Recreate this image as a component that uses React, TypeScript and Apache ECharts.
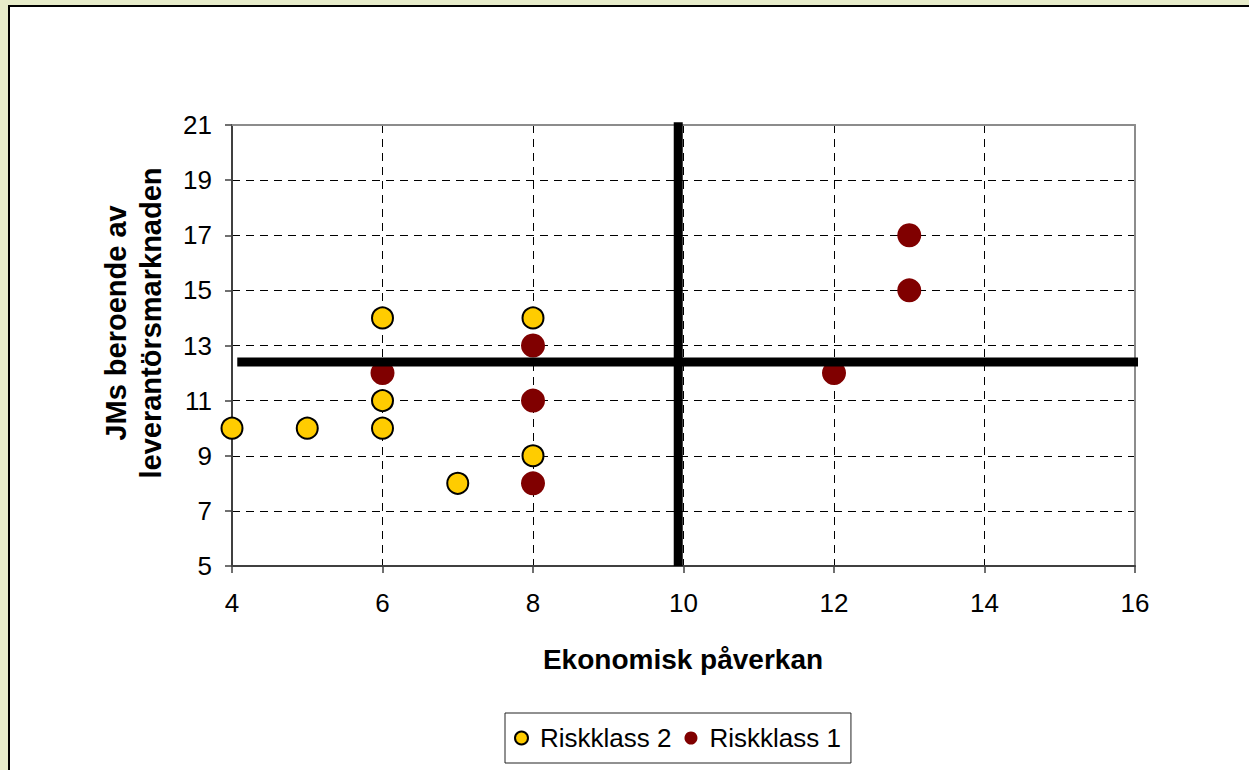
import React, { useEffect, useRef } from "react";
import * as echarts from "echarts";

const xTitle = "Ekonomisk påverkan";
const yTitle = "JMs beroende av\nleverantörsmarknaden";
const seriesNames = ["Riskklass 2", "Riskklass 1"];

const riskklass2: [number, number][] = [
  [4, 10], [5, 10], [6, 14], [6, 11], [6, 10], [7, 8], [8, 14], [8, 9],
];
const riskklass1: [number, number][] = [
  [6, 12], [8, 13], [8, 11], [8, 8], [12, 12], [13, 17], [13, 15],
];
const refLineH: [number, number][] = [[4.07, 12.4], [16.04, 12.4]];
const refLineV: [number, number][] = [[9.93, 21.1], [9.93, 5]];

const xMin = 4, xMax = 16, xStep = 2;
const yMin = 5, yMax = 21, yStep = 2;

const FONT = "'Liberation Sans', Arial, sans-serif";

export default function App() {
  const ref = useRef<HTMLDivElement>(null);
  useEffect(() => {
    if (!ref.current) return;
    const chart = echarts.init(ref.current, null, { renderer: "svg" });
    const gridLine = { show: true, lineStyle: { color: "#000", width: 1, type: [8, 6] as any } };
    chart.setOption({
      animation: false,
      backgroundColor: "#e7ecca",
      textStyle: { fontFamily: FONT },
      grid: { left: 232, right: 114, top: 125, bottom: 204 },
      graphic: [
        {
          type: "rect",
          z: -10,
          shape: { x: 9, y: 6, width: 1300, height: 800 },
          style: { fill: "#fff", stroke: "#000", lineWidth: 2 },
        },
        {
          type: "text",
          x: 683,
          y: 659,
          style: {
            text: xTitle,
            font: `bold 28px ${FONT}`,
            fill: "#000",
            textAlign: "center",
            textVerticalAlign: "middle",
          },
        },
        {
          type: "text",
          x: 133,
          y: 323,
          rotation: Math.PI / 2,
          style: {
            text: yTitle,
            font: `bold 29px ${FONT}`,
            lineHeight: 35,
            fill: "#000",
            textAlign: "center",
            textVerticalAlign: "middle",
          },
        },
      ],
      legend: {
        data: seriesNames,
        left: 505,
        top: 713,
        orient: "horizontal",
        padding: [12, 10, 12, 9],
        itemGap: 13,
        itemWidth: 13,
        itemHeight: 13,
        borderColor: "#222",
        borderWidth: 1,
        backgroundColor: "#fff",
        icon: "circle",
        textStyle: { fontSize: 26, color: "#000", fontFamily: FONT, padding: [0, 0, 0, 7] },
      },
      xAxis: [
        {
          type: "value",
          min: xMin,
          max: xMax,
          interval: xStep,
          position: "bottom",
          axisLine: { onZero: false, lineStyle: { color: "#404040", width: 2 } },
          axisTick: { show: true, length: 7, lineStyle: { color: "#404040", width: 1.5 } },
          axisLabel: { fontSize: 26, color: "#000", margin: 24, fontFamily: FONT },
          splitLine: gridLine,
        },
        {
          type: "value",
          min: xMin,
          max: xMax,
          position: "top",
          axisLine: { onZero: false, lineStyle: { color: "#8c8c8c", width: 2 } },
          axisTick: { show: false },
          axisLabel: { show: false },
          splitLine: { show: false },
        },
      ],
      yAxis: [
        {
          type: "value",
          min: yMin,
          max: yMax,
          interval: yStep,
          position: "left",
          axisLine: { show: true, onZero: false, lineStyle: { color: "#404040", width: 2 } },
          axisTick: { show: true, length: 7, lineStyle: { color: "#404040", width: 1.5 } },
          axisLabel: { fontSize: 26, color: "#000", margin: 20, fontFamily: FONT },
          splitLine: gridLine,
        },
        {
          type: "value",
          min: yMin,
          max: yMax,
          position: "right",
          axisLine: { show: true, onZero: false, lineStyle: { color: "#8c8c8c", width: 2 } },
          axisTick: { show: false },
          axisLabel: { show: false },
          splitLine: { show: false },
        },
      ],
      series: [
        {
          name: seriesNames[0],
          type: "scatter",
          data: riskklass2,
          symbol: "circle",
          symbolSize: 21,
          itemStyle: { color: "#ffcc00", borderColor: "#000", borderWidth: 2, opacity: 1 },
          z: 3,
        },
        {
          name: seriesNames[1],
          type: "scatter",
          data: riskklass1,
          symbol: "circle",
          symbolSize: 24,
          itemStyle: { color: "#800000", opacity: 1 },
          z: 3,
        },
        {
          name: "refH",
          type: "line",
          data: refLineH,
          symbol: "none",
          clip: false,
          silent: true,
          lineStyle: { color: "#000", width: 9 },
          z: 5,
        },
        {
          name: "refV",
          type: "line",
          data: refLineV,
          symbol: "none",
          clip: false,
          silent: true,
          lineStyle: { color: "#000", width: 9 },
          z: 5,
        },
      ],
    });
    return () => chart.dispose();
  }, []);
  return (
    <div
      ref={ref}
      style={{ position: "fixed", left: 0, top: 0, width: 1249, height: 770 }}
    />
  );
}
